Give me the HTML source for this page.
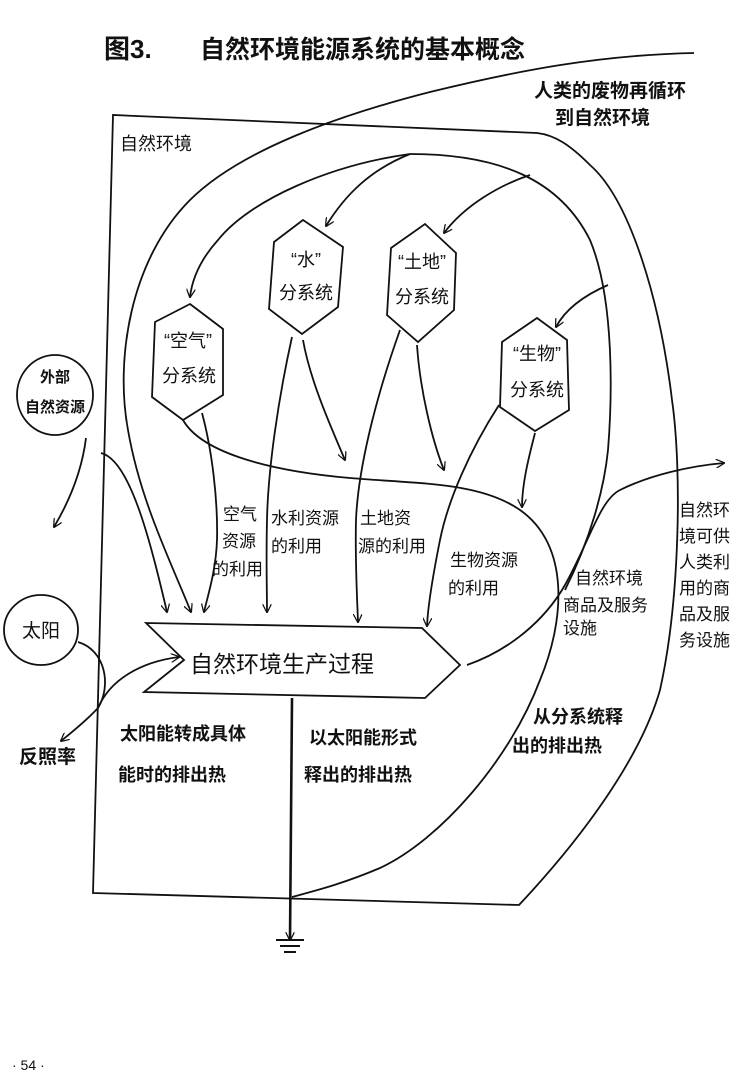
<!DOCTYPE html>
<html><head><meta charset="utf-8"><style>
html,body{margin:0;padding:0;background:#fff;}
svg{display:block;}
text{font-family:"Liberation Sans","Noto Sans CJK SC",sans-serif;fill:#111;}
.b{font-weight:bold;}
</style></head><body>
<svg width="740" height="1083" viewBox="0 0 740 1083" xmlns="http://www.w3.org/2000/svg">
<defs>
<marker id="a" viewBox="0 0 10 10" refX="9" refY="5" markerWidth="9" markerHeight="9" orient="auto-start-reverse" markerUnits="userSpaceOnUse">
<path d="M0,0 L10,5 L0,10" fill="none" stroke="#111" stroke-width="1.4"/></marker>
</defs>
<g fill="none" stroke="#111" stroke-width="1.8">
<!-- frame -->
<path d="M113,115 L93,893 L519,905 C580,840 640,760 660,690 C680,600 682,470 672,400 C660,300 630,200 590,165 C570,145 555,135 537,133 Z"/>
<!-- recycle curve -->
<path d="M694,53 C600,55 520,70 430,92 C340,115 240,150 190,200 C130,260 115,360 128,430 C140,500 170,560 191,612" marker-end="url(#a)"/>
<!-- big arc from top -->
<path d="M410,154 C500,154 560,180 590,240 C615,300 612,400 608,450 C604,490 590,540 565,590"/>
<path d="M410,154 C330,165 250,200 218,240 C200,260 192,280 190,297" marker-end="url(#a)"/>
<path d="M410,154 C370,170 345,195 326,226" marker-end="url(#a)"/>
<path d="M530,175 C500,185 465,205 444,233" marker-end="url(#a)"/>
<path d="M608,285 C585,295 566,308 556,327" marker-end="url(#a)"/>
<!-- hexagons -->
<path d="M190,304 L223,329 L223,395 L183,420 L152,397 L155,322 Z" fill="#fff"/>
<path d="M303,220 L343,247 L338,307 L302,334 L269,309 L274,242 Z" fill="#fff"/>
<path d="M425,224 L456,253 L454,310 L418,342 L387,315 L391,248 Z" fill="#fff"/>
<path d="M537,318 L567,340 L569,410 L535,431 L500,407 L502,342 Z" fill="#fff"/>
<!-- hex outputs -->
<path d="M202,413 C212,450 218,500 217,540 C216,570 208,595 204,612" marker-end="url(#a)"/>
<path d="M292,337 C278,400 268,470 267,520 C266,560 267,590 267,612" marker-end="url(#a)"/>
<path d="M303,340 C310,380 330,425 345,460" marker-end="url(#a)"/>
<path d="M400,330 C375,400 358,470 356,520 C355,560 357,595 358,622" marker-end="url(#a)"/>
<path d="M417,345 C420,390 432,440 444,470" marker-end="url(#a)"/>
<path d="M499,405 C470,450 448,500 440,540 C432,580 428,605 427,626" marker-end="url(#a)"/>
<path d="M535,433 C528,460 522,485 522,507" marker-end="url(#a)"/>
<!-- heat curve -->
<path d="M183,420 C200,450 260,470 350,478 C420,484 480,482 520,510 C570,545 565,620 540,680 C510,760 440,840 380,868 C340,885 310,892 292,897"/>
<!-- external resources -->
<ellipse cx="55" cy="395" rx="38" ry="40" fill="#fff"/>
<path d="M101,453 C130,460 150,540 167,612" marker-end="url(#a)"/>
<path d="M86,438 C82,470 70,500 54,527" marker-end="url(#a)"/>
<!-- sun -->
<ellipse cx="41" cy="630" rx="37" ry="35" fill="#fff"/>
<path d="M78,642 C105,650 112,685 98,708 C85,722 72,732 61,741" marker-end="url(#a)"/>
<path d="M98,708 C110,680 140,662 179,657" marker-end="url(#a)"/>
<!-- process arrow -->
<path d="M146,623 L422,628 L460,665 L425,698 L144,692 L184,660 Z" fill="#fff"/>
<!-- output -->
<path d="M467,665 C510,650 545,620 565,585 C590,540 600,500 620,490 C650,475 690,466 724,463" marker-end="url(#a)"/>
<!-- ground -->
<path d="M292,698 L290,940" stroke-width="2.6" marker-end="url(#a)"/>
<path d="M276,940 L304,940 M280,946 L300,946 M284,952 L296,952" stroke-width="2"/>
</g>
<text x="104" y="58" class="b" font-size="26">图3.</text>
<text x="200" y="58" class="b" font-size="25">自然环境能源系统的基本概念</text>
<text x="534" y="97" class="b" font-size="19">人类的废物再循环</text>
<text x="555" y="124" class="b" font-size="19">到自然环境</text>
<text x="120" y="150" font-size="18">自然环境</text>
<g font-size="18" text-anchor="middle">
<text x="188" y="347">“空气”</text><text x="189" y="382">分系统</text>
<text x="306" y="266">“水”</text><text x="306" y="299">分系统</text>
<text x="422" y="268">“土地”</text><text x="422" y="303">分系统</text>
<text x="537" y="360">“生物”</text><text x="537" y="396">分系统</text>
</g>
<text x="55" y="382" class="b" font-size="15" text-anchor="middle">外部</text>
<text x="55" y="412" class="b" font-size="15" text-anchor="middle">自然资源</text>
<text x="41" y="637" font-size="19" text-anchor="middle">太阳</text>
<text x="19" y="763" class="b" font-size="19">反照率</text>
<g font-size="17">
<text x="223" y="520">空气</text><text x="222" y="547">资源</text><text x="212" y="575">的利用</text>
<text x="271" y="524">水利资源</text><text x="271" y="552">的利用</text>
<text x="360" y="524">土地资</text><text x="358" y="552">源的利用</text>
<text x="450" y="566">生物资源</text><text x="448" y="594">的利用</text>
<text x="575" y="584">自然环境</text><text x="563" y="611">商品及服务</text><text x="563" y="634">设施</text>
<text x="679" y="516">自然环</text><text x="679" y="542">境可供</text><text x="679" y="568">人类利</text>
<text x="679" y="594">用的商</text><text x="679" y="620">品及服</text><text x="679" y="646">务设施</text>
</g>
<text x="190" y="672" font-size="23">自然环境生产过程</text>
<g class="b" font-size="18">
<text x="120" y="740">太阳能转成具体</text><text x="118" y="781">能时的排出热</text>
<text x="309" y="744">以太阳能形式</text><text x="304" y="781">释出的排出热</text>
<text x="533" y="723">从分系统释</text><text x="512" y="752">出的排出热</text>
</g>
<text x="12" y="1070" font-size="14">· 54 ·</text>
</svg>
</body></html>
